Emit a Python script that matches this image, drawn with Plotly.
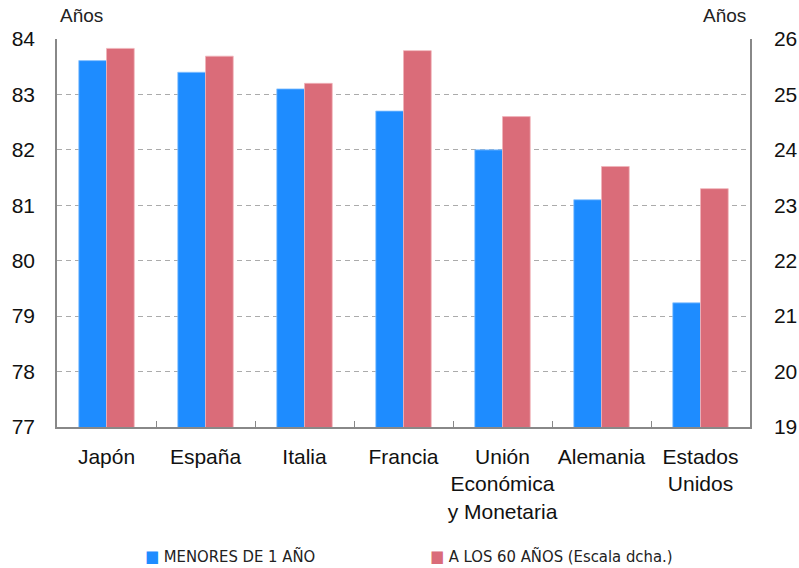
import plotly.graph_objects as go

categorias = ["Japón", "España", "Italia", "Francia", "Unión<br>Económica<br>y Monetaria", "Alemania", "Estados<br>Unidos"]
menores_1 = [83.61, 83.4, 83.1, 82.7, 82.0, 81.1, 79.24]
a_los_60 = [25.83, 25.69, 25.2, 25.79, 24.6, 23.7, 23.3]
ticks_izq = [77, 78, 79, 80, 81, 82, 83, 84]
ticks_der = [19, 20, 21, 22, 23, 24, 25, 26]
nombres = ["MENORES DE 1 AÑO", "A LOS 60 AÑOS (Escala dcha.)"]

BLUE = "#1E8CFF"
RED = "#DA6C79"
GRID = "#ABABAB"
AXIS = "#888888"
FONT = "Liberation Sans"
LEGFONT = "Liberation Sans Narrow, DejaVu Sans Condensed, Liberation Sans"

fig = go.Figure()
fig.add_trace(go.Bar(
    x=categorias, y=menores_1, name=nombres[0],
    marker=dict(color=BLUE, line=dict(color="#8CC4FF", width=0.8)),
    width=0.28, offset=-0.28, yaxis="y",
))
fig.add_trace(go.Bar(
    x=categorias, y=a_los_60, name=nombres[1],
    marker=dict(color=RED, line=dict(color="#F0B4BA", width=0.8)),
    width=0.28, offset=0, yaxis="y2",
))

fig.update_layout(
    width=799, height=568,
    margin=dict(l=57, r=49, t=39, b=141, autoexpand=False),
    plot_bgcolor="white", paper_bgcolor="white",
    font=dict(family=FONT, color="#1a1a1a"),
    showlegend=False,
    barmode="overlay",
    xaxis=dict(
        type="category", showgrid=False, showline=True, linecolor=AXIS, linewidth=1.5,
        ticks="inside", tickson="boundaries", ticklen=6, tickcolor=AXIS, tickangle=0,
        tickfont=dict(size=21, family=FONT, color="#111"), automargin=False,
        ticklabelstandoff=10, range=[-0.5, 6.5],
    ),
    yaxis=dict(
        range=[77, 84], tickvals=ticks_izq, showgrid=True, gridcolor=GRID, griddash="5px,4px",
        gridwidth=1, showline=True, linecolor=AXIS, linewidth=1.5, ticks="",
        tickfont=dict(size=21, family=FONT, color="#111"), zeroline=False, automargin=False,
        ticklabelstandoff=16,
    ),
    yaxis2=dict(
        range=[19, 26], tickvals=ticks_der, overlaying="y", side="right", showgrid=False,
        showline=True, linecolor=AXIS, linewidth=1.5, ticks="",
        tickfont=dict(size=21, family=FONT, color="#111"), zeroline=False, automargin=False,
        ticklabelstandoff=18,
    ),
    annotations=[
        dict(text="Años", xref="paper", yref="paper", x=(58 - 57) / 693, y=1.0, yshift=24,
             xanchor="left", yanchor="middle", showarrow=False,
             font=dict(size=19, family=FONT, color="#222")),
        dict(text="Años", xref="paper", yref="paper", x=(748 - 57) / 693, y=1.0, yshift=24,
             xanchor="right", yanchor="middle", showarrow=False,
             font=dict(size=19, family=FONT, color="#222")),
        dict(text=f"<span style='color:{BLUE}'>■</span> {nombres[0]}", xref="paper", yref="paper",
             x=(143 - 57) / 693, y=0, yshift=-129, xanchor="left", yanchor="middle", showarrow=False,
             font=dict(size=16.5, family=LEGFONT, color="#222")),
        dict(text=f"<span style='color:{RED}'>■</span> {nombres[1]}", xref="paper", yref="paper",
             x=(428 - 57) / 693, y=0, yshift=-129, xanchor="left", yanchor="middle", showarrow=False,
             font=dict(size=16.5, family=LEGFONT, color="#222")),
    ],
)

fig.write_html("out.html", config={"displayModeBar": False},
               post_script="document.body.style.margin='0';")
